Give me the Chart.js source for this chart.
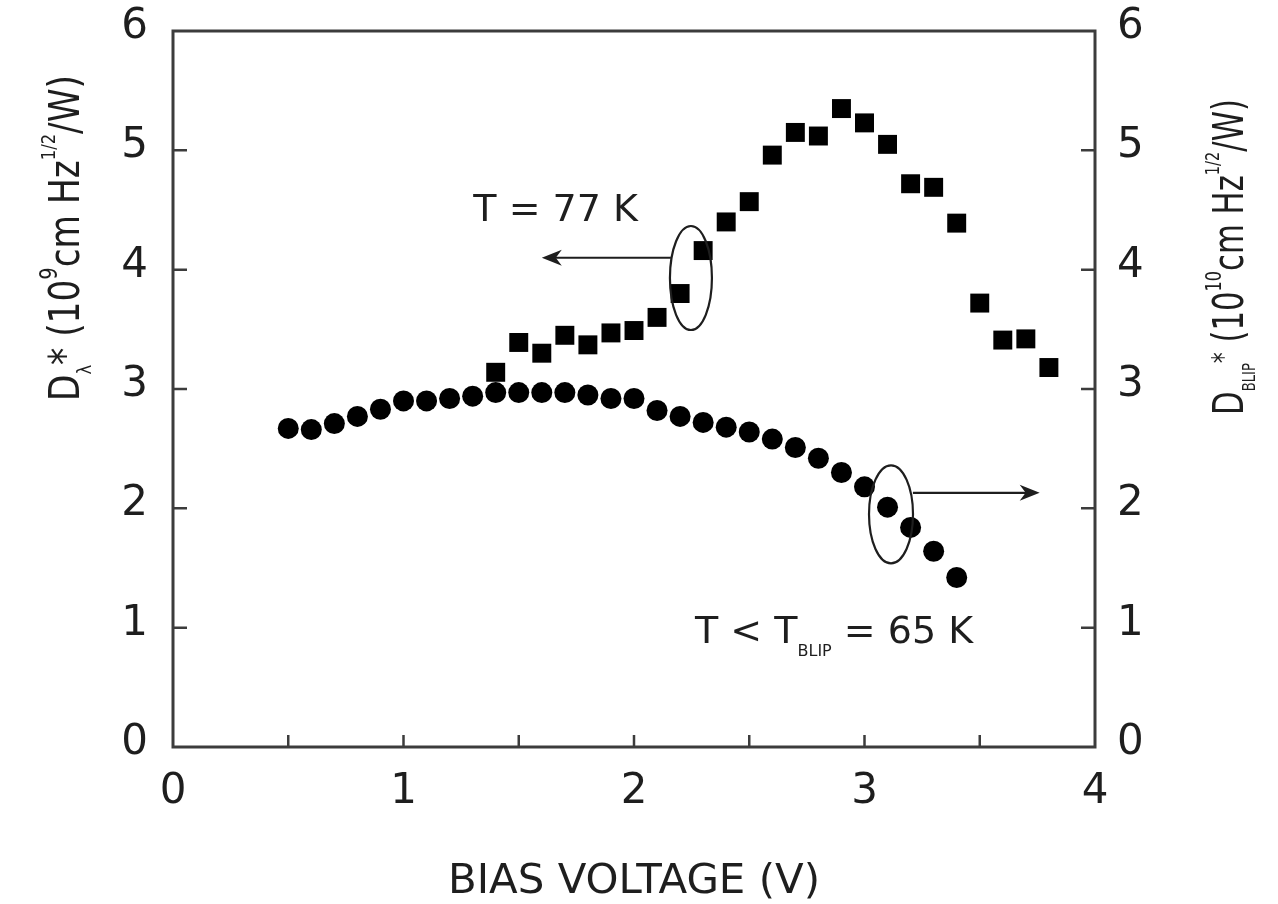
<!DOCTYPE html>
<html lang="en">
<head>
<meta charset="UTF-8">
<title>Detectivity vs bias voltage</title>
<script src="https://cdn.jsdelivr.net/npm/chart.js"></script>
<style>
  html, body { margin: 0; padding: 0; background: #fff; }
  canvas { display: block; }
</style>
</head>
<body>
<canvas id="grafico" width="1278" height="904"></canvas>
<script>
// T = 77 K (squares, left axis, 10^9 cm Hz^1/2/W)
var volts77 = [1.4, 1.5, 1.6, 1.7, 1.8, 1.9, 2.0, 2.1, 2.2, 2.3, 2.4, 2.5, 2.6,
               2.7, 2.8, 2.9, 3.0, 3.1, 3.2, 3.3, 3.4, 3.5, 3.6, 3.7, 3.8];
var dStar77 = [3.14, 3.39, 3.30, 3.45, 3.37, 3.47, 3.49, 3.60, 3.80, 4.16, 4.40, 4.57, 4.96,
               5.15, 5.12, 5.35, 5.23, 5.05, 4.72, 4.69, 4.39, 3.72, 3.41, 3.42, 3.18];

// T < T_BLIP = 65 K (circles, right axis, 10^10 cm Hz^1/2/W)
var voltsBlip = [0.5, 0.6, 0.7, 0.8, 0.9, 1.0, 1.1, 1.2, 1.3, 1.4, 1.5, 1.6, 1.7, 1.8, 1.9,
                 2.0, 2.1, 2.2, 2.3, 2.4, 2.5, 2.6, 2.7, 2.8, 2.9, 3.0, 3.1, 3.2, 3.3, 3.4];
var dStarBlip = [2.67, 2.66, 2.71, 2.77, 2.83, 2.90, 2.90, 2.92, 2.94, 2.97, 2.97, 2.97, 2.97, 2.95, 2.92,
                 2.92, 2.82, 2.77, 2.72, 2.68, 2.64, 2.58, 2.51, 2.42, 2.30, 2.18, 2.01, 1.84, 1.64, 1.42];

var xTickLabels = [0, 1, 2, 3, 4];
var yTickLabels = [0, 1, 2, 3, 4, 5, 6];

// annotation anchors, in data units
var label77 = { x: 1.66, y: 4.41 };
var ring77 = { x: 2.247, y: 3.93 };
var arrow77 = { from: 2.16, to: 1.60, y: 4.10 };
var labelBlip = { x: 2.265, y: 0.87 };
var ringBlip = { x: 3.115, y: 1.95 };
var arrowBlip = { from: 3.21, to: 3.76, y: 2.13 };

var FONT = "'DejaVu Sans', Verdana, sans-serif";
var INK = '#1e1e1e';

function pts(xs, ys) {
    return xs.map(function (v, i) { return { x: v, y: ys[i] }; });
}

// draws a run of text pieces (sub/superscripts), optionally squeezed to a length
function richText(ctx, parts, x, y, angle, align, fitLen) {
    ctx.save();
    ctx.translate(x, y);
    ctx.rotate(angle);
    var w = 0;
    parts.forEach(function (p) {
        ctx.font = p.size + 'px ' + FONT;
        w += ctx.measureText(p.t).width;
    });
    if (fitLen) ctx.scale(fitLen / w, 1);
    var cx = align === 'center' ? -w / 2 : 0;
    ctx.textAlign = 'left';
    ctx.textBaseline = 'alphabetic';
    ctx.fillStyle = INK;
    parts.forEach(function (p) {
        ctx.font = p.size + 'px ' + FONT;
        ctx.fillText(p.t, cx, p.dy || 0);
        cx += ctx.measureText(p.t).width;
    });
    ctx.restore();
}

function arrow(ctx, x0, y, x1) {
    var dir = x1 > x0 ? 1 : -1;
    ctx.beginPath();
    ctx.moveTo(x0, y);
    ctx.lineTo(x1 - dir * 10, y);
    ctx.stroke();
    ctx.beginPath();
    ctx.moveTo(x1, y);
    ctx.lineTo(x1 - dir * 20, y - 8);
    ctx.lineTo(x1 - dir * 14, y);
    ctx.lineTo(x1 - dir * 20, y + 8);
    ctx.closePath();
    ctx.fill();
}

// fixed box sizes so the plot frame lands where it does in the figure
function fixBox(w, h) {
    return function (s) {
        if (w) s.width = w;
        if (h) s.height = h;
        s.paddingTop = 0;
        s.paddingBottom = 0;
        s.paddingLeft = 0;
        s.paddingRight = 0;
    };
}

var decoracao = {
    id: 'decoracao',
    afterDraw: function (chart) {
        var ctx = chart.ctx;
        var a = chart.chartArea;
        var sx = chart.scales.x, sy = chart.scales.y, sy2 = chart.scales.y2;

        // frame and inward ticks
        ctx.save();
        ctx.strokeStyle = '#3c3c3c';
        ctx.lineWidth = 3;
        ctx.strokeRect(a.left, a.top, a.right - a.left, a.bottom - a.top);
        ctx.lineWidth = 2.5;
        ctx.beginPath();
        sx.ticks.forEach(function (t) {
            var px = sx.getPixelForValue(t.value);
            if (px <= a.left + 2 || px >= a.right - 2) return;
            ctx.moveTo(px, a.bottom);
            ctx.lineTo(px, a.bottom - 12);
        });
        sy.ticks.forEach(function (t) {
            var py = sy.getPixelForValue(t.value);
            if (py <= a.top + 2 || py >= a.bottom - 2) return;
            ctx.moveTo(a.left, py);
            ctx.lineTo(a.left + 14, py);
        });
        sy2.ticks.forEach(function (t) {
            var py = sy2.getPixelForValue(t.value);
            if (py <= a.top + 2 || py >= a.bottom - 2) return;
            ctx.moveTo(a.right, py);
            ctx.lineTo(a.right - 14, py);
        });
        ctx.stroke();
        ctx.restore();

        // axis titles
        richText(ctx, [{ t: 'BIAS VOLTAGE (V)', size: 40 }],
            (a.left + a.right) / 2, 893, 0, 'center', 372);
        richText(ctx, [
            { t: 'D', size: 42 },
            { t: 'λ', size: 20, dy: 12 },
            { t: '*', size: 42 },
            { t: ' (10', size: 42 },
            { t: '9', size: 24, dy: -22 },
            { t: 'cm Hz', size: 42 },
            { t: '1/2', size: 20, dy: -24 },
            { t: '/W)', size: 42 }
        ], 79, 238, -Math.PI / 2, 'center', 326);
        richText(ctx, [
            { t: 'D', size: 42 },
            { t: 'BLIP', size: 18, dy: 12 },
            { t: '*', size: 30, dy: -10 },
            { t: ' (10', size: 42 },
            { t: '10', size: 22, dy: -22 },
            { t: 'cm Hz', size: 42 },
            { t: '1/2', size: 20, dy: -24 },
            { t: '/W)', size: 42 }
        ], 1243, 257, -Math.PI / 2, 'center', 316);

        // annotations
        ctx.save();
        ctx.strokeStyle = INK;
        ctx.fillStyle = INK;
        ctx.lineWidth = 2.2;
        ctx.beginPath();
        ctx.ellipse(sx.getPixelForValue(ring77.x), sy.getPixelForValue(ring77.y), 21, 52, 0, 0, Math.PI * 2);
        ctx.stroke();
        ctx.beginPath();
        ctx.ellipse(sx.getPixelForValue(ringBlip.x), sy2.getPixelForValue(ringBlip.y), 22, 49, 0, 0, Math.PI * 2);
        ctx.stroke();
        arrow(ctx, sx.getPixelForValue(arrow77.from), sy.getPixelForValue(arrow77.y), sx.getPixelForValue(arrow77.to));
        arrow(ctx, sx.getPixelForValue(arrowBlip.from), sy2.getPixelForValue(arrowBlip.y), sx.getPixelForValue(arrowBlip.to));
        ctx.restore();

        richText(ctx, [{ t: 'T = 77 K', size: 38 }],
            sx.getPixelForValue(label77.x), sy.getPixelForValue(label77.y), 0, 'center');
        richText(ctx, [
            { t: 'T < T', size: 38 },
            { t: 'BLIP', size: 16, dy: 13 },
            { t: ' = 65 K', size: 38 }
        ], sx.getPixelForValue(labelBlip.x), sy2.getPixelForValue(labelBlip.y), 0, 'left');
    }
};

var ctx = document.getElementById('grafico').getContext('2d');

var grafico = new Chart(ctx, {
    type: 'scatter',
    data: {
        datasets: [{
            label: 'T = 77 K',
            data: pts(volts77, dStar77),
            yAxisID: 'y',
            pointStyle: 'rect',
            pointRadius: 13.4,
            pointHoverRadius: 13.4,
            backgroundColor: '#000',
            borderColor: '#000',
            borderWidth: 0
        }, {
            label: 'T < T_BLIP = 65 K',
            data: pts(voltsBlip, dStarBlip),
            yAxisID: 'y2',
            pointStyle: 'circle',
            pointRadius: 10.5,
            pointHoverRadius: 10.5,
            backgroundColor: '#000',
            borderColor: '#000',
            borderWidth: 0
        }]
    },
    options: {
        responsive: false,
        animation: false,
        devicePixelRatio: 1,
        layout: { padding: { top: 31, left: 0, right: 0, bottom: 0 } },
        scales: {
            x: {
                type: 'linear',
                position: 'bottom',
                min: 0,
                max: 4,
                grid: { display: false, drawTicks: false },
                border: { display: false },
                ticks: {
                    stepSize: 0.5,
                    padding: 20,
                    color: INK,
                    font: { family: FONT, size: 42 },
                    maxRotation: 0,
                    autoSkip: false,
                    callback: function (v) { return xTickLabels.indexOf(v) >= 0 ? String(v) : ''; }
                },
                afterFit: fixBox(0, 157)
            },
            y: {
                type: 'linear',
                position: 'left',
                min: 0,
                max: 6,
                grid: { display: false, drawTicks: false },
                border: { display: false },
                ticks: {
                    stepSize: 1,
                    padding: 25,
                    labelOffset: -4,
                    color: INK,
                    font: { family: FONT, size: 42 },
                    callback: function (v) { return yTickLabels.indexOf(v) >= 0 ? String(v) : ''; }
                },
                afterFit: fixBox(173, 0)
            },
            y2: {
                type: 'linear',
                position: 'right',
                min: 0,
                max: 6,
                grid: { display: false, drawTicks: false },
                border: { display: false },
                ticks: {
                    stepSize: 1,
                    padding: 22,
                    labelOffset: -4,
                    color: INK,
                    font: { family: FONT, size: 42 },
                    callback: function (v) { return yTickLabels.indexOf(v) >= 0 ? String(v) : ''; }
                },
                afterFit: fixBox(183, 0)
            }
        },
        plugins: {
            legend: { display: false },
            tooltip: { enabled: false }
        }
    },
    plugins: [decoracao]
});
</script>
</body>
</html>
